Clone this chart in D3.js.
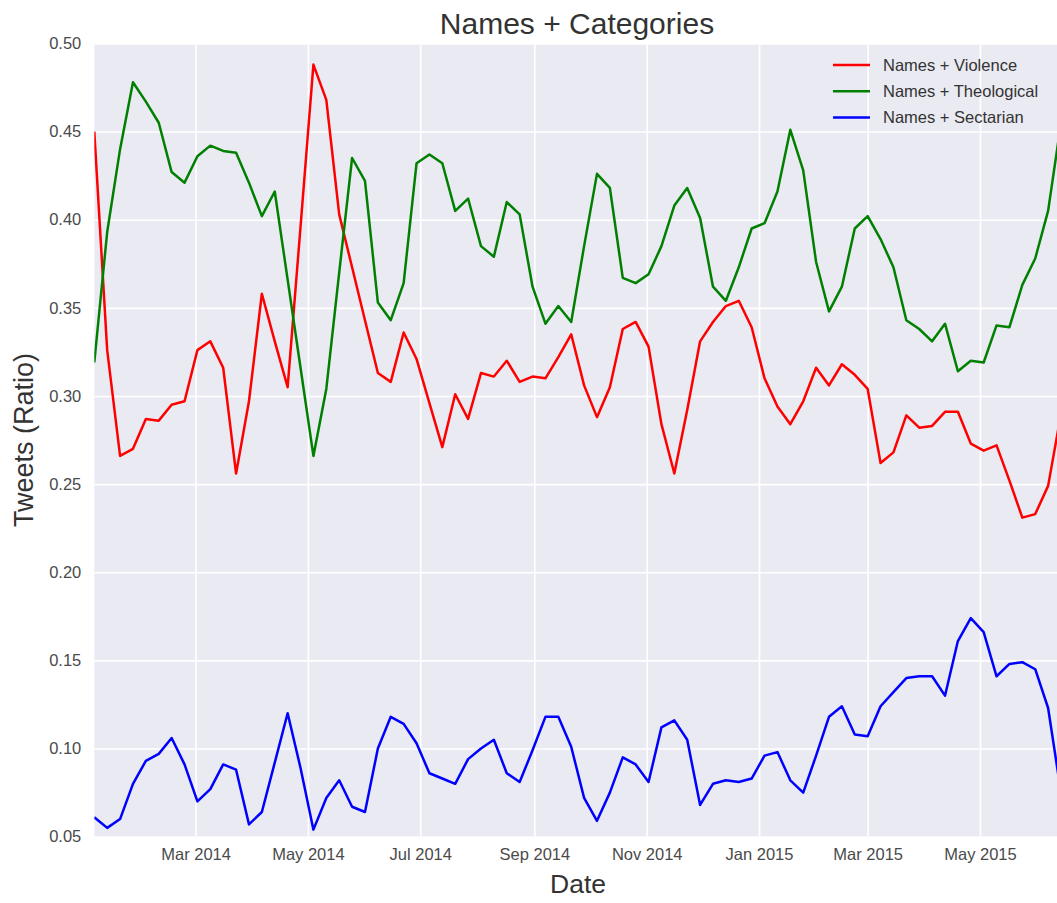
<!DOCTYPE html>
<html>
<head>
<meta charset="utf-8">
<script src="https://cdn.jsdelivr.net/npm/d3@7"></script>
<style>
  body { margin: 0; background: #fff; }
  text { font-family: "Liberation Sans", Arial, sans-serif; }
</style>
</head>
<body>
<div id="chart"></div>
<script>
// Weekly ratios, one value per week starting Sunday 5 Jan 2014
let startDate = new Date(Date.UTC(2014, 0, 5));
let endDate = new Date(Date.UTC(2015, 5, 14));

let violence = [0.450, 0.326, 0.266, 0.270, 0.287, 0.286, 0.295, 0.297, 0.326, 0.331,
  0.316, 0.256, 0.297, 0.358, 0.331, 0.305, 0.396, 0.488, 0.468, 0.403,
  0.373, 0.343, 0.313, 0.308, 0.336, 0.321, 0.296, 0.271, 0.301, 0.287,
  0.313, 0.311, 0.320, 0.308, 0.311, 0.310, 0.322, 0.335, 0.306, 0.288,
  0.305, 0.338, 0.342, 0.328, 0.284, 0.256, 0.292, 0.331, 0.342, 0.351,
  0.354, 0.339, 0.310, 0.294, 0.284, 0.297, 0.316, 0.306, 0.318, 0.312,
  0.304, 0.262, 0.268, 0.289, 0.282, 0.283, 0.291, 0.291, 0.273, 0.269,
  0.272, 0.252, 0.231, 0.233, 0.249, 0.290];

let theological = [0.319, 0.393, 0.440, 0.478, 0.467, 0.455, 0.427, 0.421, 0.436, 0.442,
  0.439, 0.438, 0.421, 0.402, 0.416, 0.366, 0.316, 0.266, 0.304, 0.370,
  0.435, 0.422, 0.353, 0.343, 0.364, 0.432, 0.437, 0.432, 0.405, 0.412,
  0.385, 0.379, 0.410, 0.403, 0.362, 0.341, 0.351, 0.342, 0.385, 0.426,
  0.418, 0.367, 0.364, 0.369, 0.385, 0.408, 0.418, 0.401, 0.362, 0.354,
  0.373, 0.395, 0.398, 0.416, 0.451, 0.428, 0.376, 0.348, 0.362, 0.395,
  0.402, 0.389, 0.373, 0.343, 0.338, 0.331, 0.341, 0.314, 0.320, 0.319,
  0.340, 0.339, 0.363, 0.378, 0.405, 0.455];

let sectarian = [0.061, 0.055, 0.060, 0.080, 0.093, 0.097, 0.106, 0.091, 0.070, 0.077,
  0.091, 0.088, 0.057, 0.064, 0.092, 0.120, 0.089, 0.054, 0.072, 0.082,
  0.067, 0.064, 0.100, 0.118, 0.114, 0.103, 0.086, 0.083, 0.080, 0.094,
  0.100, 0.105, 0.086, 0.081, 0.099, 0.118, 0.118, 0.101, 0.072, 0.059,
  0.075, 0.095, 0.091, 0.081, 0.112, 0.116, 0.105, 0.068, 0.080, 0.082,
  0.081, 0.083, 0.096, 0.098, 0.082, 0.075, 0.096, 0.118, 0.124, 0.108,
  0.107, 0.124, 0.132, 0.140, 0.141, 0.141, 0.130, 0.161, 0.174, 0.166,
  0.141, 0.148, 0.149, 0.145, 0.123, 0.075];

let seriesNames = ["Names + Violence", "Names + Theological", "Names + Sectarian"];
let seriesColors = ["#ff0000", "#008000", "#0000ff"];
let yTicks = [0.05, 0.10, 0.15, 0.20, 0.25, 0.30, 0.35, 0.40, 0.45, 0.50];

let svgWidth = 1057;
let svgHeight = 903;
let margin = { top: 43.4, left: 94.3 };
let plotRight = 1061;
let plotBottom = 836.7;

let svg = d3.select("#chart")
  .append("svg")
  .attr("width", svgWidth)
  .attr("height", svgHeight);

let weeks = d3.utcWeek.range(startDate, d3.utcDay.offset(endDate, 1));

let x = d3.scaleUtc()
  .domain([startDate, endDate])
  .range([margin.left, plotRight]);

let y = d3.scaleLinear()
  .domain([0.05, 0.50])
  .range([plotBottom, margin.top]);

// plot background
svg.append("rect")
  .attr("x", margin.left)
  .attr("y", margin.top)
  .attr("width", plotRight - margin.left)
  .attr("height", plotBottom - margin.top)
  .attr("fill", "#eaeaf2");

// grid + tick labels
let xTickDates = x.ticks(d3.utcMonth.every(2));

let yAxis = svg.append("g")
  .attr("transform", `translate(${margin.left},0)`)
  .call(d3.axisLeft(y).tickValues(yTicks).tickFormat(d3.format(".2f"))
    .tickSize(-(plotRight - margin.left)).tickPadding(13));

let xAxis = svg.append("g")
  .attr("transform", `translate(0,${plotBottom})`)
  .call(d3.axisBottom(x).tickValues(xTickDates).tickFormat(d3.utcFormat("%b %Y"))
    .tickSize(-(plotBottom - margin.top)).tickPadding(12));

[xAxis, yAxis].forEach(function(ax) {
  ax.select(".domain").remove();
  ax.selectAll(".tick line")
    .attr("stroke", "#ffffff")
    .attr("stroke-width", 1.6);
  ax.selectAll(".tick text")
    .attr("fill", "#4a4a4a")
    .style("font-size", "16.5px")
    .style("font-family", "'Liberation Sans', Arial, sans-serif");
});

// lines
let allSeries = [violence, theological, sectarian];
let line = d3.line()
  .x((d, i) => x(weeks[i]))
  .y(d => y(d));

svg.append("clipPath").attr("id", "plotclip")
  .append("rect")
  .attr("x", margin.left)
  .attr("y", margin.top - 2)
  .attr("width", plotRight - margin.left)
  .attr("height", plotBottom - margin.top + 4);

svg.append("g")
  .attr("clip-path", "url(#plotclip)")
  .selectAll("path")
  .data(allSeries)
  .enter()
  .append("path")
  .attr("d", line)
  .attr("fill", "none")
  .attr("stroke", (d, i) => seriesColors[i])
  .attr("stroke-width", 2.5)
  .attr("stroke-linejoin", "round");

// legend
let legend = svg.append("g")
  .attr("transform", "translate(833,65)");

seriesNames.forEach(function(name, i) {
  let row = legend.append("g").attr("transform", `translate(0,${i * 26.3})`);
  row.append("line")
    .attr("x1", 0).attr("x2", 37)
    .attr("stroke", seriesColors[i])
    .attr("stroke-width", 2.5);
  row.append("text")
    .attr("x", 50)
    .attr("dy", "0.35em")
    .attr("fill", "#333333")
    .style("font-size", "16.5px")
    .text(name);
});

// titles
svg.append("text")
  .attr("x", 577)
  .attr("y", 34)
  .attr("text-anchor", "middle")
  .attr("fill", "#333333")
  .style("font-size", "30px")
  .text("Names + Categories");

svg.append("text")
  .attr("x", 578)
  .attr("y", 893)
  .attr("text-anchor", "middle")
  .attr("fill", "#333333")
  .style("font-size", "26.5px")
  .text("Date");

svg.append("text")
  .attr("transform", "translate(33,440) rotate(-90)")
  .attr("text-anchor", "middle")
  .attr("fill", "#333333")
  .style("font-size", "27px")
  .text("Tweets (Ratio)");
</script>
</body>
</html>
